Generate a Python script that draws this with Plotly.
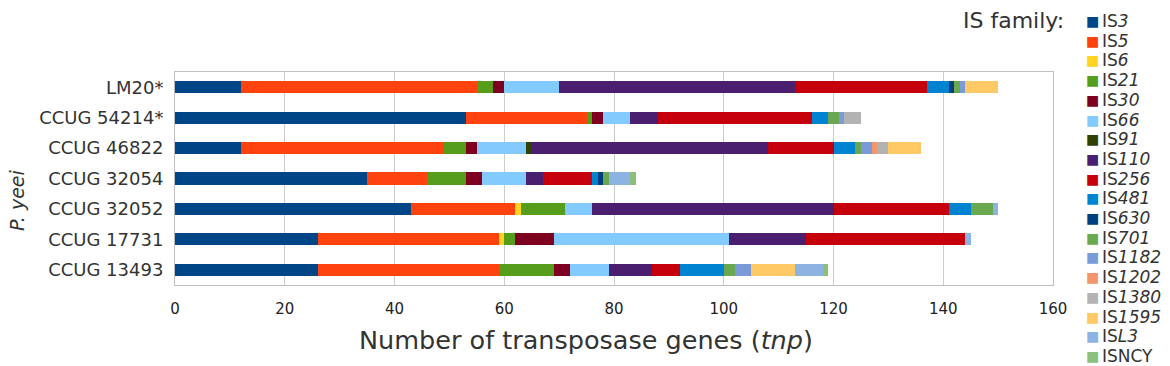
import plotly.graph_objects as go

# ---------------- data ----------------
strains = ["LM20*", "CCUG 54214*", "CCUG 46822", "CCUG 32054",
           "CCUG 32052", "CCUG 17731", "CCUG 13493"]

families = ["IS3", "IS5", "IS6", "IS21", "IS30", "IS66", "IS91", "IS110",
            "IS256", "IS481", "IS630", "IS701", "IS1182", "IS1202",
            "IS1380", "IS1595", "ISL3", "ISNCY"]
legend_labels = ["IS<i>3</i>", "IS<i>5</i>", "IS<i>6</i>", "IS<i>21</i>",
                 "IS<i>30</i>", "IS<i>66</i>", "IS<i>91</i>", "IS<i>110</i>",
                 "IS<i>256</i>", "IS<i>481</i>", "IS<i>630</i>", "IS<i>701</i>",
                 "IS<i>1182</i>", "IS<i>1202</i>", "IS<i>1380</i>",
                 "IS<i>1595</i>", "IS<i>L3</i>", "ISNCY"]
colors = ["#004586", "#ff420e", "#ffd320", "#579d1c", "#7e0021", "#83caff",
          "#314004", "#4b1f6f", "#c5000b", "#0084d1", "#003e7e", "#6aa84f",
          "#7b9bd8", "#f4956a", "#b3b3b3", "#ffc966", "#8db3e2", "#8cc07a"]

# counts per family, one value per strain (order of `strains`)
IS3    = [12, 53, 12, 35, 43, 26, 26]
IS5    = [43, 22, 37, 11, 19, 33, 33]
IS6    = [0, 0, 0, 0, 1, 1, 0]
IS21   = [3, 1, 4, 7, 8, 2, 10]
IS30   = [2, 2, 2, 3, 0, 7, 3]
IS66   = [10, 5, 9, 8, 5, 32, 7]
IS91   = [0, 0, 1, 0, 0, 0, 0]
IS110  = [43, 5, 43, 3, 44, 14, 8]
IS256  = [24, 28, 12, 9, 21, 29, 5]
IS481  = [4, 3, 4, 1, 4, 0, 8]
IS630  = [1, 0, 0, 1, 0, 0, 0]
IS701  = [1, 2, 1, 1, 4, 0, 2]
IS1182 = [1, 1, 2, 0, 0, 0, 3]
IS1202 = [0, 0, 1, 0, 0, 0, 0]
IS1380 = [0, 3, 2, 0, 0, 0, 0]
IS1595 = [6, 0, 6, 0, 0, 0, 8]
ISL3   = [0, 0, 0, 4, 1, 1, 5]
ISNCY  = [0, 0, 0, 1, 0, 0, 1]

series = [IS3, IS5, IS6, IS21, IS30, IS66, IS91, IS110, IS256, IS481,
          IS630, IS701, IS1182, IS1202, IS1380, IS1595, ISL3, ISNCY]

x_ticks = [0, 20, 40, 60, 80, 100, 120, 140, 160]

# ---------------- figure ----------------
# the page body has an 8px default margin: compensate so the drawing
# lands at the same window pixels as the reference
OFF = 8
W, H = 1170 - OFF, 366 - OFF
PLOT_L, PLOT_R, PLOT_T, PLOT_B = 175, 1053, 72, 285   # window pixels
ML, MT = PLOT_L - OFF, PLOT_T - OFF
MR = W - (PLOT_R - OFF)
MB = H - (PLOT_B - OFF)
PW, PH = PLOT_R - PLOT_L, PLOT_B - PLOT_T
FONT = "DejaVu Sans"


def px_x(px):
    return (px - PLOT_L) / PW


def px_y(py):
    return (PLOT_B - py) / PH


fig = go.Figure()
for name, vals, col in zip(families, series, colors):
    fig.add_trace(go.Bar(y=strains, x=vals, orientation="h", name=name,
                         marker=dict(color=col, line=dict(width=0)),
                         showlegend=False))

annotations = []
# custom legend (IS family list at the right)
for i, (lab, col) in enumerate(zip(legend_labels, colors)):
    yc = 21 + i * 19.7
    annotations.append(dict(text="■", x=px_x(1092), y=px_y(yc), xref="paper",
                            yref="paper", xanchor="center", yanchor="middle",
                            showarrow=False,
                            font=dict(family=FONT, size=14, color=col)))
    annotations.append(dict(text=lab, x=px_x(1100), y=px_y(yc), xref="paper",
                            yref="paper", xanchor="left", yanchor="middle",
                            showarrow=False,
                            font=dict(family=FONT, size=17, color="#333333")))
annotations.append(dict(text="IS family:", x=px_x(1066), y=px_y(20),
                        xref="paper", yref="paper", xanchor="right",
                        yanchor="middle", showarrow=False,
                        font=dict(family=FONT, size=22, color="#333333")))
annotations.append(dict(text="Number of transposase genes (<i>tnp</i>)",
                        x=px_x(586), y=px_y(340), xref="paper", yref="paper",
                        xanchor="center", yanchor="middle", showarrow=False,
                        font=dict(family=FONT, size=25.5, color="#333333")))
annotations.append(dict(text="<i>P. yeei</i>", x=px_x(17), y=px_y(200),
                        xref="paper", yref="paper", xanchor="center",
                        yanchor="middle", showarrow=False, textangle=-90,
                        font=dict(family=FONT, size=19, color="#333333")))

fig.update_layout(
    width=W, height=H,
    margin=dict(l=ML, r=MR, t=MT, b=MB, pad=0, autoexpand=False),
    barmode="stack", bargap=0.6,
    plot_bgcolor="white", paper_bgcolor="white",
    font=dict(family=FONT, color="#222222"),
    annotations=annotations,
    xaxis=dict(range=[0, 160], tickvals=x_ticks, ticktext=[str(v) for v in x_ticks],
               showgrid=True, gridcolor="#cccccc", gridwidth=1,
               showline=True, linecolor="#bfbfbf", linewidth=1, mirror=True,
               zeroline=False, ticks="", ticklabelstandoff=10, automargin=False,
               tickfont=dict(family=FONT, size=15, color="#222222")),
    yaxis=dict(type="category", categoryorder="array", categoryarray=strains,
               autorange="reversed", showgrid=False, automargin=False,
               showline=True, linecolor="#bfbfbf", linewidth=1, mirror=True,
               zeroline=False, ticks="", ticklabelstandoff=7,
               tickfont=dict(family=FONT, size=18, color="#333333")),
)

fig.write_html("out.html")
